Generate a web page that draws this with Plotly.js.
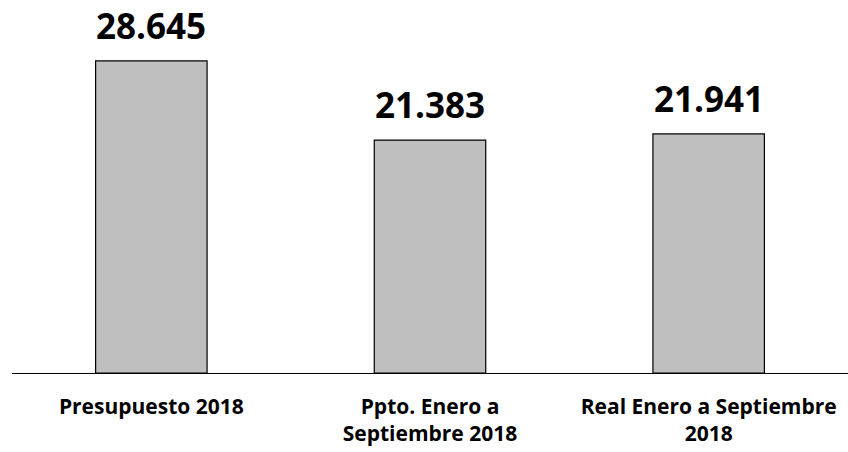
<!DOCTYPE html>
<html>
<head>
<meta charset="utf-8">
<script src="https://cdn.plot.ly/plotly-3.0.1.min.js"></script>
<style>html,body{margin:0;padding:0;background:#fff;}#chart{width:848px;height:452px;}</style>
</head>
<body>
<div id="chart"></div>
<script>
const categories = ["Presupuesto 2018", "Ppto. Enero a<br>Septiembre 2018", "Real Enero a Septiembre<br>2018"];
const values = [28645, 21383, 21941];

const trace = {
  type: 'bar',
  x: categories,
  y: values,
  width: 0.4,
  marker: {color: '#bfbfbf', line: {color: '#000000', width: 1.2}},
  hoverinfo: 'none'
};

const annotations = categories.map((c, i) => ({
  x: c, y: values[i], xref: 'x', yref: 'y',
  text: values[i].toLocaleString('de-DE'),
  showarrow: false, yanchor: 'bottom', yshift: 10,
  font: {family: '"Open Sans", sans-serif', size: 35, color: '#000', weight: 'bold'}
}));

const layout = {
  width: 848, height: 452,
  margin: {l: 12, r: 0, t: 20, b: 79},
  paper_bgcolor: '#ffffff', plot_bgcolor: '#ffffff',
  separators: ',.',
  showlegend: false,
  xaxis: {
    showline: true, linecolor: '#000000', linewidth: 1.3,
    ticks: '', showgrid: false, zeroline: false,
    tickfont: {family: '"Open Sans", sans-serif', size: 21, color: '#000', weight: 'bold'},
    ticklabelstandoff: 14
  },
  yaxis: {
    range: [0, 32400], visible: false, showgrid: false, zeroline: false
  },
  annotations: annotations
};

Plotly.newPlot('chart', [trace], layout, {displayModeBar: false, staticPlot: true});
</script>
</body>
</html>
